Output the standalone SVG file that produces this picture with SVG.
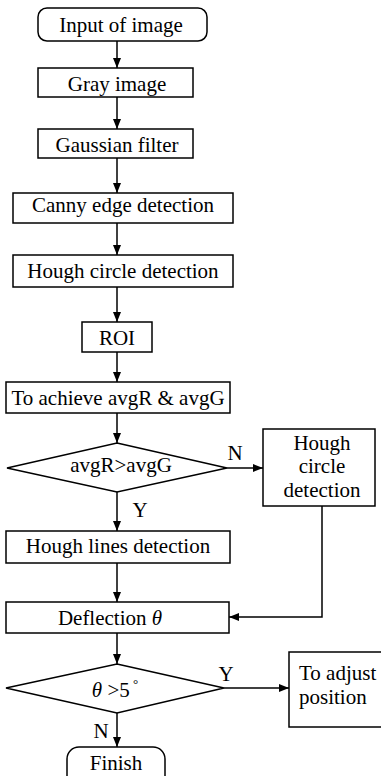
<svg xmlns="http://www.w3.org/2000/svg" width="381" height="776" viewBox="0 0 381 776">
<defs>
<style>
.b{fill:#fff;stroke:#000;stroke-width:1.5}
.t{font-family:"Liberation Serif","Times New Roman",serif;font-size:21px;fill:#000;text-anchor:middle}
.s{font-family:"Liberation Serif","Times New Roman",serif;font-size:21px;fill:#000;text-anchor:start}
.l{fill:none;stroke:#000;stroke-width:1.5}
</style>
<marker id="a" viewBox="0 0 10 8" refX="10" refY="4" markerWidth="10" markerHeight="8" markerUnits="userSpaceOnUse" orient="auto">
<path d="M0,0 L10,4 L0,8 Z" fill="#000"/>
</marker>
</defs>
<rect width="381" height="776" fill="#fff"/>
<g id="connectors">
<line class="l" x1="117" y1="41" x2="117" y2="68" marker-end="url(#a)"/>
<line class="l" x1="117" y1="97" x2="117" y2="129" marker-end="url(#a)"/>
<line class="l" x1="117" y1="158" x2="117" y2="193" marker-end="url(#a)"/>
<line class="l" x1="117" y1="223" x2="117" y2="255" marker-end="url(#a)"/>
<line class="l" x1="117" y1="287" x2="117" y2="322" marker-end="url(#a)"/>
<line class="l" x1="117" y1="352" x2="117" y2="382" marker-end="url(#a)"/>
<line class="l" x1="117" y1="413" x2="117" y2="443" marker-end="url(#a)"/>
<line class="l" x1="227" y1="468" x2="263" y2="468" marker-end="url(#a)"/>
<line class="l" x1="117" y1="492" x2="117" y2="531" marker-end="url(#a)"/>
<line class="l" x1="117" y1="563" x2="117" y2="602" marker-end="url(#a)"/>
<polyline class="l" points="322,506 322,617 229,617" marker-end="url(#a)"/>
<line class="l" x1="117" y1="633" x2="117" y2="664" marker-end="url(#a)"/>
<line class="l" x1="224" y1="688" x2="289" y2="688" marker-end="url(#a)"/>
<line class="l" x1="117" y1="713" x2="117" y2="747" marker-end="url(#a)"/>
<text class="t" x="235" y="460">N</text>
<text class="t" x="140" y="517">Y</text>
<text class="t" x="226" y="681">Y</text>
<text class="t" x="101" y="738">N</text>
</g>
<g id="n1"><rect class="b" x="38" y="8" width="169" height="33" rx="9"/><text class="t" x="121" y="32">Input of image</text></g>
<g id="n2"><rect class="b" x="38" y="68" width="155" height="29"/><text class="t" x="117" y="91">Gray image</text></g>
<g id="n3"><rect class="b" x="38" y="129" width="155" height="29"/><text class="t" x="117" y="152">Gaussian filter</text></g>
<g id="n4"><rect class="b" x="13" y="193" width="220" height="30"/><text class="t" x="123" y="212">Canny edge detection</text></g>
<g id="n5"><rect class="b" x="13" y="255" width="220" height="32"/><text class="t" x="123" y="278">Hough circle detection</text></g>
<g id="n6"><rect class="b" x="82" y="322" width="70" height="30"/><text class="t" x="117" y="345">ROI</text></g>
<g id="n7"><rect class="b" x="6" y="382" width="224" height="31"/><text class="t" x="118" y="405">To achieve avgR &amp; avgG</text></g>
<g id="n8"><polygon class="b" points="117,443 227,468 117,492 7,468"/><text class="t" x="121" y="472">avgR&gt;avgG</text></g>
<g id="n9"><rect class="b" x="263" y="429" width="112" height="77"/><text class="t" x="322" y="450">Hough</text><text class="t" x="322" y="473">circle</text><text class="t" x="322" y="497">detection</text></g>
<g id="n10"><rect class="b" x="6" y="531" width="224" height="32"/><text class="t" x="118" y="553">Hough lines detection</text></g>
<g id="n11"><rect class="b" x="6" y="602" width="223" height="31"/><text class="t" x="110" y="625">Deflection <tspan font-style="italic">θ</tspan></text></g>
<g id="n12"><polygon class="b" points="117,664 224,688 117,713 6,688"/><text class="t" x="115" y="697"><tspan font-style="italic">θ</tspan> &gt;5<tspan font-size="13" dy="-9"> °</tspan></text></g>
<g id="n13"><rect class="b" x="289" y="652" width="100" height="75"/><text class="s" x="299" y="680">To adjust</text><text class="s" x="299" y="704">position</text></g>
<g id="n14"><rect class="b" x="67" y="747" width="98" height="45" rx="12"/><text class="t" x="116" y="770">Finish</text></g>
</svg>
